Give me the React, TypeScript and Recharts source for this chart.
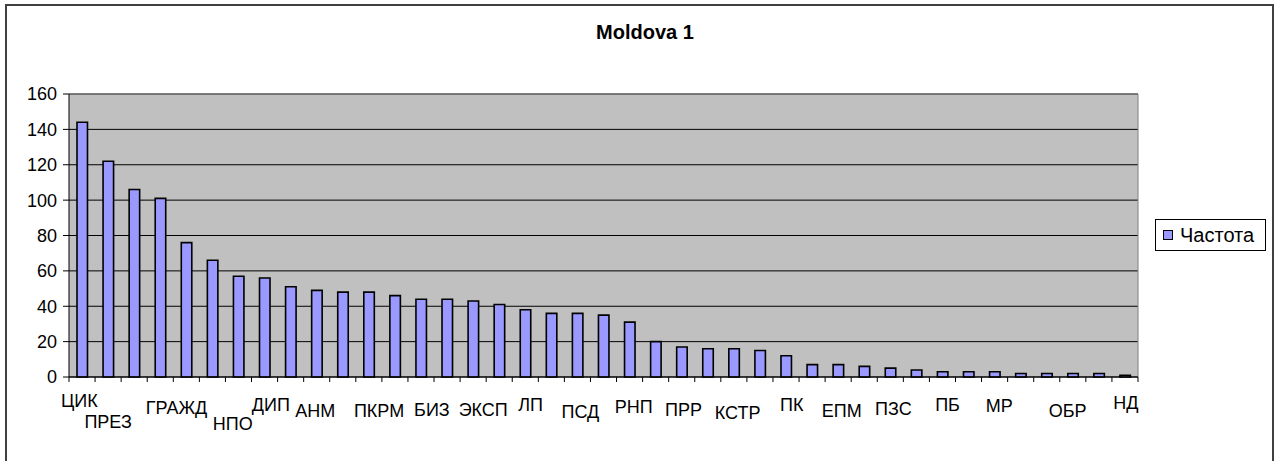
import { BarChart, Bar, XAxis, YAxis, CartesianGrid, Legend } from "recharts";

// category labels as printed under the axis ('' = no label shown for that bar)
const categories = [
  "ЦИК", "ПРЕЗ", "", "", "ГРАЖД", "", "НПО", "ДИП", "", "АНМ",
  "", "ПКРМ", "", "БИЗ", "", "ЭКСП", "", "ЛП", "", "ПСД",
  "", "РНП", "", "ПРР", "", "КСТР", "", "ПК", "", "ЕПМ",
  "", "ПЗС", "", "ПБ", "", "МР", "", "", "ОБР", "",
  "НД",
];

const frequency = [
  144, 122, 106, 101, 76, 66, 57, 56, 51, 49,
  48, 48, 46, 44, 44, 43, 41, 38, 36, 36,
  35, 31, 20, 17, 16, 16, 15, 12, 7, 7,
  6, 5, 4, 3, 3, 3, 2, 2, 2, 2,
  1,
];

const yTicks = [0, 20, 40, 60, 80, 100, 120, 140, 160];
const seriesName = "Частота";
const title = "Moldova 1";

const data = categories.map((name, i) => ({ key: i, name, value: frequency[i] }));

const W = 1280;
const H = 461;
const MARGIN = { top: 94, right: 142, bottom: 24, left: 9 };
const Y_AXIS_W = 60;
const PLOT_W = W - MARGIN.right - MARGIN.left - Y_AXIS_W;
const FONT = "'Liberation Sans', Arial, sans-serif";

// the original labels sit a little off-centre and staggered: [dx, dy below axis]
const labelNudge: Record<number, [number, number]> = {
  0: [-2.6, 30], 1: [0, 51], 4: [-9.8, 37], 6: [-5.7, 53], 7: [6.3, 34],
  9: [-1.4, 40], 11: [10.2, 40], 13: [10.9, 39], 15: [10.1, 39], 17: [5.4, 34],
  19: [2.9, 40.5], 21: [4.1, 36], 23: [1.7, 39], 25: [3.7, 41.5], 27: [5.7, 34],
  29: [3.6, 40], 31: [3.1, 37.5], 33: [5.1, 34], 35: [4.7, 35], 38: [-5.2, 40],
  40: [1, 32],
};

function CategoryTick(props: any) {
  const { x, y, payload } = props;
  const i = payload.index ?? props.index;
  const band = PLOT_W / categories.length;
  const left = x - band / 2;
  const label = categories[i];
  const [dx, dy] = labelNudge[i] ?? [0, 34];
  return (
    <g>
      <line x1={left} x2={left} y1={y} y2={y + 5} stroke="#000" />
      {i === categories.length - 1 && (
        <line x1={x + band / 2} x2={x + band / 2} y1={y} y2={y + 5} stroke="#000" />
      )}
      {label && (
        <text x={x + dx} y={y + dy} textAnchor="middle" fontSize={18} fill="#000">
          {label}
        </text>
      )}
    </g>
  );
}

function LegendBox() {
  return (
    <div
      style={{
        boxSizing: "border-box",
        width: 111,
        height: 32,
        border: "1px solid #000",
        background: "#fff",
        display: "flex",
        alignItems: "center",
        paddingLeft: 7,
        fontSize: 20,
        color: "#000",
      }}
    >
      <span
        style={{
          display: "inline-block",
          boxSizing: "border-box",
          width: 10,
          height: 10,
          background: "#9999FF",
          border: "1px solid #000",
          marginRight: 7,
        }}
      />
      {seriesName}
    </div>
  );
}

export default function App() {
  return (
    <div
      style={{
        position: "absolute",
        left: 0,
        top: 0,
        width: W,
        height: H,
        overflow: "hidden",
        background: "#fff",
        fontFamily: FONT,
      }}
    >
      <div
        style={{
          position: "absolute",
          left: 5,
          top: 4,
          width: 1265,
          height: 480,
          border: "2px solid #404040",
        }}
      />
      <div
        style={{
          position: "absolute",
          left: 0,
          width: 1290,
          top: 22,
          textAlign: "center",
          fontWeight: "bold",
          fontSize: 20,
          lineHeight: "20px",
          color: "#000",
        }}
      >
        {title}
      </div>
      <BarChart width={W} height={H} data={data} margin={MARGIN}>
        <CartesianGrid vertical={false} stroke="#000" fill="#C0C0C0" />
        <CartesianGrid
          stroke="#808080"
          horizontalCoordinatesGenerator={({ offset }: any) => [offset.top]}
          verticalCoordinatesGenerator={({ offset }: any) => [offset.left + offset.width]}
        />
        <XAxis
          dataKey="key"
          interval={0}
          tickLine={false}
          tickSize={0}
          tickMargin={0}
          height={60}
          axisLine={{ stroke: "#000" }}
          tick={<CategoryTick />}
        />
        <YAxis
          width={Y_AXIS_W}
          domain={[0, 160]}
          ticks={yTicks}
          interval={0}
          tickSize={6}
          tickMargin={6}
          axisLine={{ stroke: "#000" }}
          tickLine={{ stroke: "#000" }}
          tick={{ fill: "#000", fontSize: 18 }}
        />
        <Legend
          layout="vertical"
          align="center"
          verticalAlign="middle"
          wrapperStyle={{ left: 1155, top: 219, width: 111, height: 32 }}
          content={() => <LegendBox />}
        />
        <Bar
          dataKey="value"
          name={seriesName}
          fill="#9999FF"
          stroke="#000"
          strokeWidth={1.6}
          barSize={10.5}
          isAnimationActive={false}
        />
      </BarChart>
    </div>
  );
}
